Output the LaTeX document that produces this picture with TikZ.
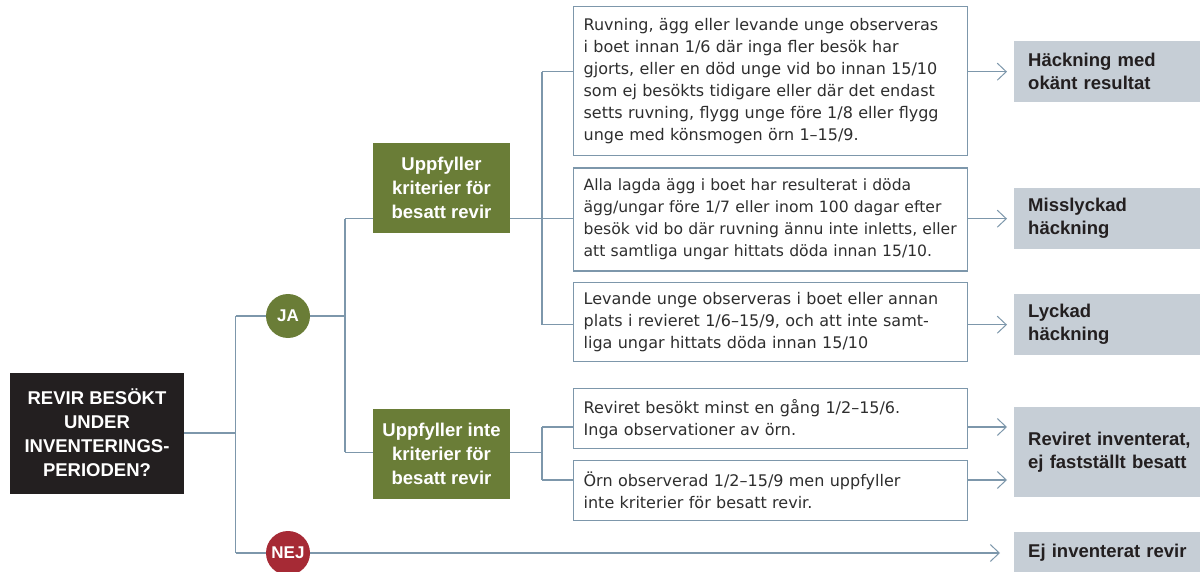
\documentclass[tikz,border=0pt]{standalone}
\usepackage{fontspec}
\setmainfont{DejaVu Sans}
\newfontfamily\headfont{Liberation Sans}
\usetikzlibrary{arrows.meta}
\definecolor{linkblue}{HTML}{7D97AB}
\definecolor{bodygray}{HTML}{2E2E2E}
\definecolor{okgreen}{HTML}{6A7D37}
\definecolor{nored}{HTML}{A62A35}
\definecolor{qblack}{HTML}{231F20}
\definecolor{resgray}{HTML}{C6CED6}

\begin{document}
\begin{tikzpicture}[x=1pt,y=-1pt,
    link/.style={draw=linkblue,line width=1.3pt},
    arrowlink/.style={link,-{Straight Barb[length=9pt,width=17pt,line width=1pt]},shorten >=7pt},
    txtbox/.style={draw=linkblue,line width=1.3pt,anchor=north west,text=bodygray,align=left,
      text width=374pt,inner xsep=10pt,inner ysep=0pt,font=\fontsize{16}{22}\selectfont},
    greenbox/.style={fill=okgreen,text=white,align=center,minimum width=137pt,minimum height=90pt,
      inner sep=0pt,font=\headfont\bfseries\fontsize{18.5}{24}\selectfont},
    answer/.style={circle,minimum size=44pt,inner sep=0pt,text=white,font=\headfont\bfseries\fontsize{17}{20}\selectfont},
    resbox/.style={fill=resgray,anchor=north west,align=left,text width=172pt,inner xsep=14pt,inner ysep=0pt,
      text=qblack,font=\headfont\bfseries\fontsize{18.5}{23}\selectfont}]
  %%%%% START %%%%%
  \useasboundingbox (0,0) rectangle (1200,572);

  % question and answers
  \node[fill=qblack,text=white,align=center,minimum width=174pt,minimum height=121pt,inner sep=0pt,
    font=\headfont\bfseries\fontsize{18.5}{24}\selectfont] (q) at (97,433) {REVIR BESÖKT\\UNDER\\INVENTERINGS-\\PERIODEN?};
  \node[answer,fill=okgreen] (ja) at (288,316) {JA};
  \node[answer,fill=nored] (nej) at (288,553) {NEJ};

  \node[greenbox] (g1) at (441.5,188) {Uppfyller\\kriterier för\\besatt revir};
  \node[greenbox] (g2) at (441.5,454) {Uppfyller inte\\kriterier för\\besatt revir};

  % criteria
  \node[txtbox,minimum height=149pt] (t1) at (573,6) {Ruvning, ägg eller levande unge observeras\\i boet innan 1/6 där inga fler besök har\\gjorts, eller en död unge vid bo innan 15/10\\som ej besökts tidigare eller där det endast\\setts ruvning, flygg unge före 1/8 eller flygg\\unge med könsmogen örn 1–15/9.};
  \node[txtbox,minimum height=103pt,font=\fontsize{15.6}{22}\selectfont] (t2) at (573,167.5) {Alla lagda ägg i boet har resulterat i döda\\ägg/ungar före 1/7 eller inom 100 dagar efter\\\mbox{besök vid bo där ruvning ännu inte inletts, eller}\\att samtliga ungar hittats döda innan 15/10.};
  \node[txtbox,minimum height=79pt] (t3) at (573,282) {Levande unge observeras i boet eller annan\\plats i revieret 1/6–15/9, och att inte samt-\\liga ungar hittats döda innan 15/10};
  \node[txtbox,minimum height=60pt] (t4) at (573,388) {Reviret besökt minst en gång 1/2–15/6.\\Inga observationer av örn.};
  \node[txtbox,minimum height=60pt] (t5) at (573,460) {Örn observerad 1/2–15/9 men uppfyller\\inte kriterier för besatt revir.};

  % results
  \node[resbox,minimum height=61pt] (r1) at (1014,41) {Häckning med\\okänt resultat};
  \node[resbox,minimum height=61pt] (r2) at (1014,188) {Misslyckad\\häckning};
  \node[resbox,minimum height=61pt] (r3) at (1014,294) {Lyckad\\häckning};
  \node[resbox,minimum height=90pt] (r4) at (1014,407) {Reviret inventerat,\\ej fastställt besatt};
  \node[resbox,minimum height=42pt] (r5) at (1014,532) {Ej inventerat revir};

  % junctions
  \coordinate (jq) at (235.5,0);
  \coordinate (jja) at (345,0);
  \coordinate (jg) at (542,0);
  \coordinate (l4) at (0,427);
  \coordinate (l5) at (0,480);

  \draw[link] (q.east) -- (q.east -| jq);
  \draw[link] (jq |- ja) -- (jq |- nej);
  \draw[link] (jq |- ja) -- (ja.west);
  \draw[link] (jq |- nej) -- (nej.west);
  \draw[arrowlink,shorten >=14pt] (nej.east) -- (nej.east -| r5.west);

  \draw[link] (ja.east) -- (ja -| jja);
  \draw[link] (jja |- r2) -- (jja |- r4);
  \draw[link] (jja |- r2) -- (g1.west |- r2);
  \draw[link] (jja |- r4) -- (g2.west |- r4);

  \draw[link] (g1.east |- r2) -- (t2.west |- r2);
  \draw[link] (jg |- r1) -- (jg |- r3);
  \draw[link] (jg |- r1) -- (t1.west |- r1);
  \draw[link] (jg |- r3) -- (t3.west |- r3);

  \draw[link] (g2.east |- r4) -- (jg |- r4);
  \draw[link] (jg |- l4) -- (jg |- l5);
  \draw[link] (jg |- l4) -- (t4.west |- l4);
  \draw[link] (jg |- l5) -- (t5.west |- l5);

  \draw[arrowlink] (t1.east |- r1) -- (r1.west);
  \draw[arrowlink] (t2.east |- r2) -- (r2.west);
  \draw[arrowlink] (t3.east |- r3) -- (r3.west);
  \draw[arrowlink] (t4.east |- l4) -- (r4.west |- l4);
  \draw[arrowlink] (t5.east |- l5) -- (r4.west |- l5);
  %%%%% END %%%%%
\end{tikzpicture}
\end{document}
